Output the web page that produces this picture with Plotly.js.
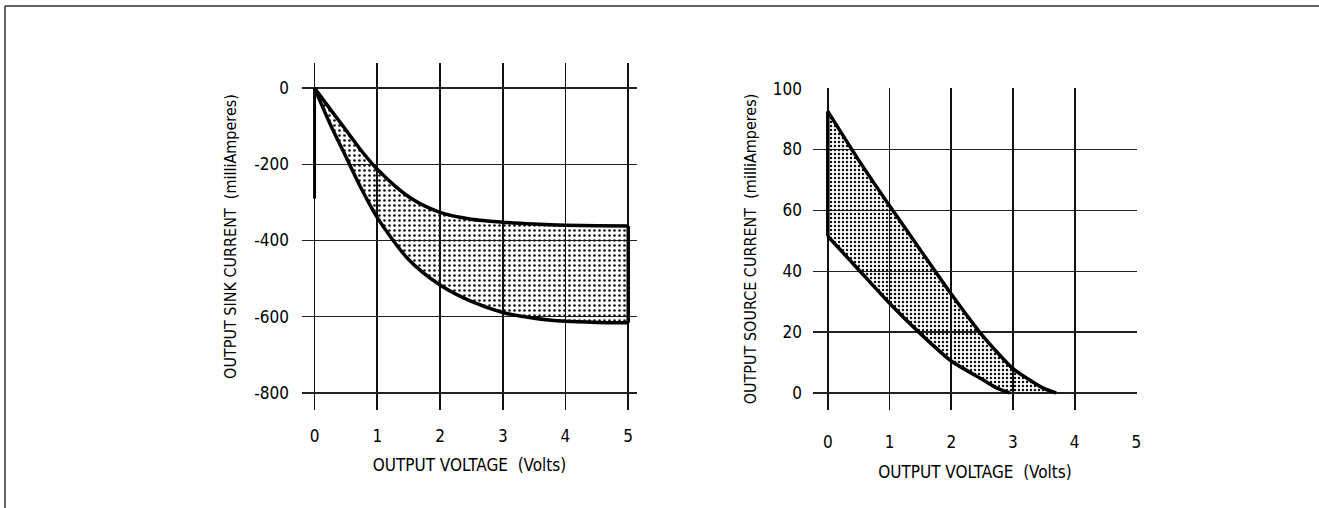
<!DOCTYPE html>
<html>
<head>
<meta charset="utf-8">
<script src="https://cdn.plot.ly/plotly-3.0.1.min.js"></script>
<style>
html,body{margin:0;padding:0;background:#fff;}
#chart{width:1319px;height:508px;}
</style>
</head>
<body>
<div id="chart"></div>
<script>
// ---- Data: left chart (sink current) ----
const sinkVoltage = [0, 0.25, 0.5, 0.75, 1, 1.5, 2, 2.5, 3, 3.5, 4, 4.5, 5];
const sinkUpper   = [0, -55, -110, -165, -213, -285, -326, -344, -352, -357, -360, -361, -362];
const sinkLower   = [0, -95, -180, -265, -340, -450, -517, -560, -589, -604, -612, -615, -616];
const sinkStubY   = [0, -290];   // heavy stroke along the 0 V axis

// ---- Data: right chart (source current) ----
const srcUpperVoltage = [0, 0.5, 1, 1.5, 2, 2.5, 3, 3.5, 3.7];
const sourceUpper     = [92.5, 76.5, 61.5, 47, 32.5, 19, 8, 1.5, 0];
const srcLowerVoltage = [0, 0.5, 1, 1.5, 2, 2.5, 2.75, 2.95];
const sourceLower     = [51.5, 40.5, 29.5, 19.5, 10.5, 4.5, 1.5, 0];

// ---- Tick labels ----
const voltTicks = [0, 1, 2, 3, 4, 5];
const sinkTicks = [0, -200, -400, -600, -800];
const sourceTicks = [0, 20, 40, 60, 80, 100];

const FONT = '"Liberation Sans Narrow", "Arial Narrow", "DejaVu Sans Condensed", "Liberation Sans", sans-serif';
const LW = 3.5;
const patternL = {shape: '.', size: 5, solidity: 0.22, fgcolor: '#111', bgcolor: 'rgba(255,255,255,0)', fillmode: 'replace'};
const patternR = {shape: '.', size: 4, solidity: 0.3, fgcolor: '#111', bgcolor: 'rgba(255,255,255,0)', fillmode: 'replace'};

const traces = [
  // left
  {x: sinkVoltage, y: sinkLower, xaxis: 'x', yaxis: 'y', mode: 'lines',
   line: {color: '#000', width: LW, shape: 'spline', smoothing: 0.8}, hoverinfo: 'skip'},
  {x: sinkVoltage, y: sinkUpper, xaxis: 'x', yaxis: 'y', mode: 'lines', fill: 'tonexty',
   fillcolor: 'rgba(0,0,0,0)', fillpattern: patternL,
   line: {color: '#000', width: LW, shape: 'spline', smoothing: 0.8}, hoverinfo: 'skip'},
  {x: [sinkVoltage[sinkVoltage.length-1], sinkVoltage[sinkVoltage.length-1]],
   y: [sinkUpper[sinkUpper.length-1], sinkLower[sinkLower.length-1]],
   xaxis: 'x', yaxis: 'y', mode: 'lines', line: {color: '#000', width: LW}, hoverinfo: 'skip'},
  {x: [sinkVoltage[0], sinkVoltage[0]], y: sinkStubY, xaxis: 'x', yaxis: 'y', mode: 'lines',
   line: {color: '#000', width: 3}, hoverinfo: 'skip'},
  // right
  {x: srcLowerVoltage, y: sourceLower, xaxis: 'x2', yaxis: 'y2', mode: 'lines',
   line: {color: '#000', width: LW, shape: 'spline', smoothing: 0.6}, hoverinfo: 'skip'},
  {x: srcUpperVoltage, y: sourceUpper, xaxis: 'x2', yaxis: 'y2', mode: 'lines', fill: 'tonexty',
   fillcolor: 'rgba(0,0,0,0)', fillpattern: patternR,
   line: {color: '#000', width: LW, shape: 'spline', smoothing: 0.6}, hoverinfo: 'skip'},
  {x: [srcUpperVoltage[0], srcLowerVoltage[0]], y: [sourceUpper[0], sourceLower[0]],
   xaxis: 'x2', yaxis: 'y2', mode: 'lines', line: {color: '#000', width: LW}, hoverinfo: 'skip'}
];

const axX = {
  tickmode: 'array', tickvals: voltTicks, ticktext: voltTicks.map(String),
  showgrid: true, gridcolor: '#111', gridwidth: 1.7, zeroline: false, showline: false,
  ticks: '', tickfont: {family: FONT, size: 17, color: '#000'},
  fixedrange: true
};
const axY = {
  tickmode: 'array', showgrid: true, gridcolor: '#222', gridwidth: 1.4, zeroline: false, showline: false,
  ticks: '', tickfont: {family: FONT, size: 17, color: '#000'}, fixedrange: true
};

const layout = {
  width: 1319, height: 508,
  margin: {l: 0, r: 0, t: 0, b: 0},
  paper_bgcolor: '#fff', plot_bgcolor: 'rgba(0,0,0,0)',
  showlegend: false,
  font: {family: FONT, color: '#000'},
  xaxis: Object.assign({}, axX, {
    domain: [302/1319, 637/1319], range: [-0.2, 5.14], anchor: 'y',
    ticklabelstandoff: 14,
    title: {text: 'OUTPUT VOLTAGE  (Volts)', font: {family: FONT, size: 17, color: '#000'}, standoff: 14}
  }),
  yaxis: Object.assign({}, axY, {
    domain: [(508-410)/508, (508-63)/508], range: [-845, 66], anchor: 'x',
    tickvals: sinkTicks, ticktext: sinkTicks.map(String), ticklabelstandoff: 12,
    title: {text: 'OUTPUT SINK CURRENT  (milliAmperes)', font: {family: FONT, size: 16, color: '#000'}, standoff: 13}
  }),
  xaxis2: Object.assign({}, axX, {
    domain: [813/1319, 1137/1319], range: [-0.24, 5.01], anchor: 'y2',
    ticklabelstandoff: 20,
    title: {text: 'OUTPUT VOLTAGE  (Volts)', font: {family: FONT, size: 17, color: '#000'}, standoff: 15}
  }),
  yaxis2: Object.assign({}, axY, {
    domain: [(508-410)/508, (508-88)/508], range: [-5.6, 100.2], anchor: 'x2',
    tickvals: sourceTicks, ticktext: sourceTicks.map(String), ticklabelstandoff: 10,
    title: {text: 'OUTPUT SOURCE CURRENT  (milliAmperes)', font: {family: FONT, size: 16, color: '#000'}, standoff: 12}
  }),
  shapes: [
    {type: 'line', xref: 'paper', yref: 'paper', x0: 5/1319, x1: 1, y0: 1 - 6/508, y1: 1 - 6/508,
     line: {color: '#333', width: 1.5}},
    {type: 'line', xref: 'paper', yref: 'paper', x0: 5/1319, x1: 5/1319, y0: 0, y1: 1 - 6/508,
     line: {color: '#333', width: 1.5}}
  ]
};

Plotly.newPlot('chart', traces, layout, {displayModeBar: false, staticPlot: true});
</script>
</body>
</html>
